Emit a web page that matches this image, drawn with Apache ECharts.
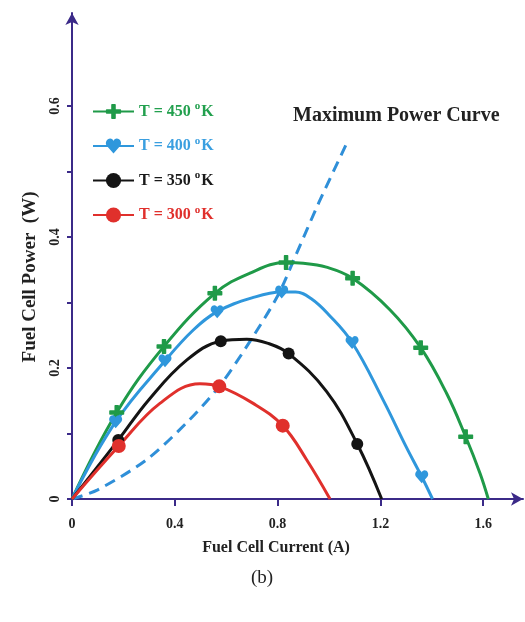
<!DOCTYPE html>
<html>
<head>
<meta charset="utf-8">
<script src="https://cdn.jsdelivr.net/npm/echarts@6/dist/echarts.min.js"></script>
<style>
html, body {
  margin: 0;
  padding: 0;
  background: #fff;
}
#chart {
  width: 525px;
  height: 622px;
}
</style>
</head>
<body>
<div id="chart"></div>
<script>
// values: [current (A), power (W)]
const t450Curve = [[0, 0], [0.174, 0.132], [0.358, 0.233], [0.556, 0.314], [0.693, 0.345], [0.833, 0.361], [0.9, 0.36], [0.99, 0.354], [1.092, 0.337], [1.237, 0.289], [1.357, 0.231], [1.458, 0.161], [1.532, 0.095], [1.588, 0.039], [1.62, 0]]
const t450Marks = [[0.174, 0.132], [0.358, 0.233], [0.556, 0.314], [0.833, 0.361], [1.092, 0.337], [1.357, 0.231], [1.532, 0.095]]

const t400Curve = [[0, 0], [0.17, 0.118], [0.362, 0.211], [0.472, 0.258], [0.565, 0.286], [0.7, 0.307], [0.816, 0.316], [0.87, 0.316], [0.93, 0.306], [1.0, 0.281], [1.09, 0.239], [1.211, 0.151], [1.3, 0.08], [1.361, 0.034], [1.403, 0]]
const t400Marks = [[0.17, 0.118], [0.362, 0.211], [0.565, 0.286], [0.816, 0.316], [1.09, 0.239], [1.361, 0.034]]

const t350Curve = [[0, 0], [0.18, 0.09], [0.3, 0.152], [0.446, 0.212], [0.579, 0.241], [0.68, 0.244], [0.76, 0.238], [0.843, 0.222], [0.991, 0.164], [1.11, 0.084], [1.205, 0]]
const t350Marks = [[0.18, 0.09], [0.579, 0.241], [0.843, 0.222], [1.11, 0.084]]

const t300Curve = [[0, 0], [0.182, 0.081], [0.342, 0.146], [0.498, 0.176], [0.573, 0.172], [0.705, 0.146], [0.82, 0.112], [0.913, 0.06], [1.004, 0]]
const t300Marks = [[0.182, 0.081], [0.573, 0.172], [0.82, 0.112]]

const maxPowerCurve = [[0, 0], [0.1, 0.014], [0.29, 0.06], [0.45, 0.118], [0.573, 0.172], [0.68, 0.233], [0.8, 0.31], [0.874, 0.375], [0.96, 0.452], [1.069, 0.543]]

const seriesNames = ['T = 450', 'T = 400', 'T = 350', 'T = 300']
const xTicks = [0, 0.4, 0.8, 1.2, 1.6]
const yTicks = [0, 0.1, 0.2, 0.3, 0.4, 0.5, 0.6]
const yLabels = [0, 0.2, 0.4, 0.6]

const colors = ['#1f9a48', '#2f97dc', '#141414', '#e0302c']
const textColors = ['#22a04e', '#3a9fe0', '#1a1a1a', '#e0302c']
const axisColor = '#3b2a88'
const serif = '"Liberation Serif", "DejaVu Serif", serif'

const plusPath = 'path://M7,1 Q7,0 8,0 L12,0 Q13,0 13,1 L13,7 L19,7 Q20,7 20,8 L20,12 Q20,13 19,13 L13,13 L13,19 Q13,20 12,20 L8,20 Q7,20 7,19 L7,13 L1,13 Q0,13 0,12 L0,8 Q0,7 1,7 L7,7 Z'
const heartPath = 'path://M10,19 L2,10 C-1,6 2,1 6,1 C8,1 9.5,2.5 10,4 C10.5,2.5 12,1 14,1 C18,1 21,6 18,10 Z'
const symbols = [plusPath, heartPath, 'circle', 'circle']
const symbolSizes = [15, 13, 12, 14]

const curves = [t450Curve, t400Curve, t350Curve, t300Curve]
const marks = [t450Marks, t400Marks, t350Marks, t300Marks]

const chart = echarts.init(document.getElementById('chart'))

const series = []
curves.forEach((curve, i) => {
  series.push({
    name: seriesNames[i],
    type: 'line',
    smooth: 0.4,
    showSymbol: false,
    symbol: symbols[i],
    symbolSize: symbolSizes[i],
    lineStyle: { color: colors[i], width: 3 },
    itemStyle: { color: colors[i] },
    data: curve,
    z: 3
  })
})
marks.forEach((m, i) => {
  series.push({
    name: seriesNames[i],
    type: 'scatter',
    symbol: symbols[i],
    symbolSize: symbolSizes[i],
    itemStyle: { color: colors[i], opacity: 1 },
    data: m,
    z: 4
  })
})
series.push({
  name: 'Maximum Power Curve',
  type: 'line',
  smooth: 0.3,
  showSymbol: false,
  lineStyle: { color: '#2f8fd8', width: 3, type: [11, 7] },
  data: maxPowerCurve,
  z: 2
})

const option = {
  animation: false,
  backgroundColor: '#fff',
  grid: {
    left: 72,
    right: 2,
    top: 13,
    bottom: 123
  },
  legend: {
    orient: 'vertical',
    left: 87,
    top: 96,
    itemWidth: 41,
    itemHeight: 19,
    itemGap: 16,
    textStyle: {
      fontFamily: serif,
      fontWeight: 'bold',
      fontSize: 16,
      rich: {
        sup: { fontSize: 11, fontWeight: 'bold', fontFamily: serif, padding: [0, 1, 10, 0] }
      }
    },
    formatter: name => name + ' {sup|o}K',
    data: seriesNames.map((name, i) => ({
      name,
      textStyle: { color: textColors[i] }
    }))
  },
  xAxis: {
    type: 'value',
    min: 0,
    max: 1.755,
    axisLine: {
      show: true,
      symbol: ['none', 'arrow'],
      symbolSize: [10, 12],
      lineStyle: { color: axisColor, width: 2 }
    },
    axisTick: { show: true, customValues: xTicks, length: 7, lineStyle: { color: axisColor, width: 2 } },
    axisLabel: {
      customValues: xTicks,
      margin: 18,
      fontFamily: serif,
      fontWeight: 'bold',
      fontSize: 14,
      color: '#222'
    },
    splitLine: { show: false }
  },
  yAxis: {
    type: 'value',
    min: 0,
    max: 0.742,
    axisLine: {
      show: true,
      symbol: ['none', 'arrow'],
      symbolSize: [10, 12],
      lineStyle: { color: axisColor, width: 2 }
    },
    axisTick: { show: true, customValues: yTicks, length: 5, lineStyle: { color: axisColor, width: 2 } },
    axisLabel: {
      customValues: yLabels,
      rotate: 90,
      margin: 10,
      fontFamily: serif,
      fontWeight: 'bold',
      fontSize: 14,
      color: '#222'
    },
    splitLine: { show: false }
  },
  graphic: [
    {
      type: 'text',
      x: 30,
      y: 277,
      rotation: Math.PI / 2,
      style: { text: 'Fuel Cell Power  (W)', font: 'bold 19px ' + serif, fill: '#222', align: 'center', verticalAlign: 'middle' }
    },
    {
      type: 'text',
      x: 276,
      y: 548,
      style: { text: 'Fuel Cell Current (A)', font: 'bold 16px ' + serif, fill: '#222', align: 'center', verticalAlign: 'middle' }
    },
    {
      type: 'text',
      left: 293,
      top: 106,
      style: { text: 'Maximum Power Curve', font: 'bold 20px ' + serif, fill: '#222' }
    },
    {
      type: 'text',
      x: 262,
      y: 578,
      style: { text: '(b)', font: '19px ' + serif, fill: '#222', align: 'center', verticalAlign: 'middle' }
    }
  ],
  series
}

chart.setOption(option)
</script>
</body>
</html>
